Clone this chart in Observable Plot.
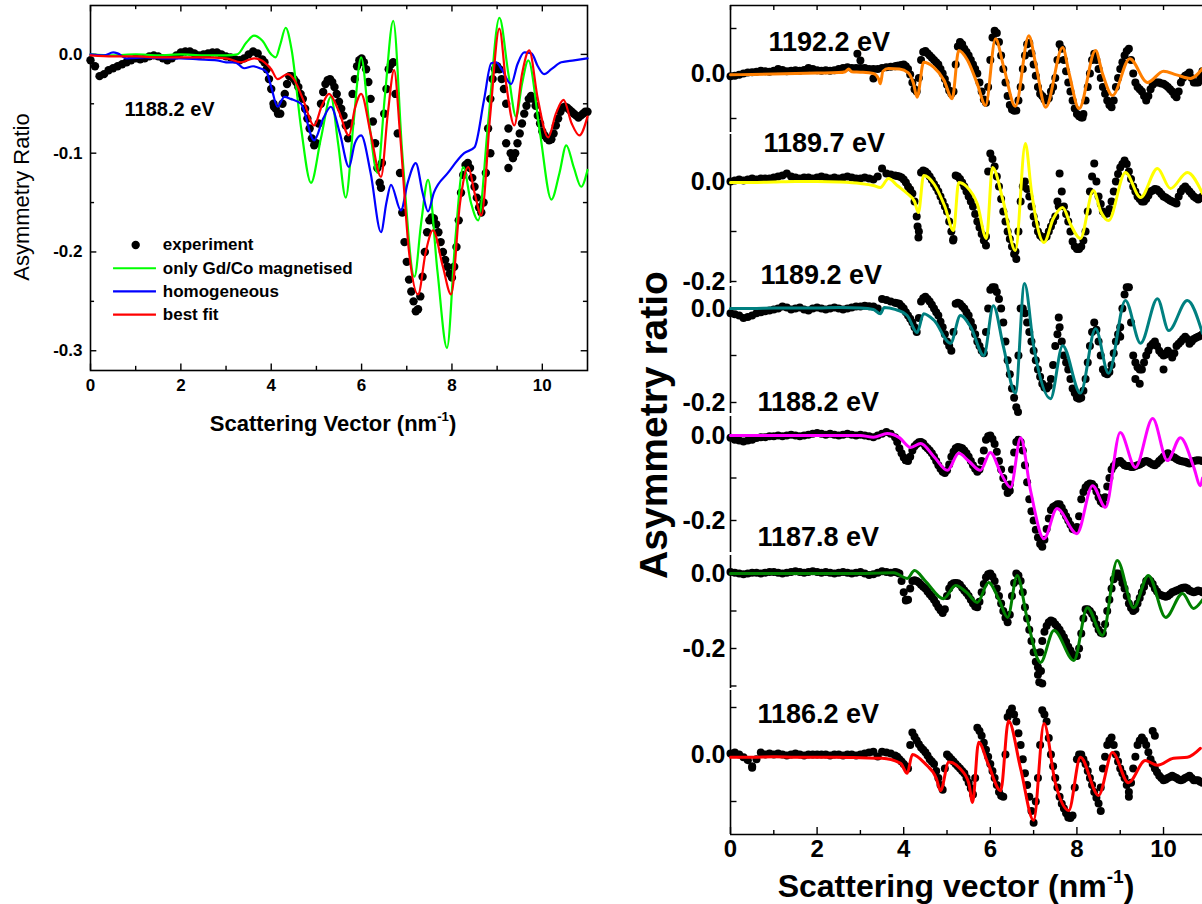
<!DOCTYPE html>
<html><head><meta charset="utf-8">
<title>Asymmetry ratio vs scattering vector</title>
<script src="https://cdn.jsdelivr.net/npm/d3@7"></script>
<script src="https://cdn.jsdelivr.net/npm/@observablehq/plot@0.6"></script>
<style>
html,body{margin:0;padding:0;background:#fff;overflow:hidden;}
#root{position:relative;width:1202px;height:904px;overflow:hidden;font-family:'Liberation Sans',Arial,Helvetica,sans-serif;color:#000;}
#root svg{position:absolute;overflow:visible;}
.ttl{position:absolute;white-space:nowrap;line-height:1;color:#000;}
.ttl sup{font-size:60%;vertical-align:0.75em;line-height:0;}
</style></head><body><div id="root"></div>
<script>
// ---------------- DATA ----------------
const qGrid = [0,0.1,0.2,0.3,0.4,0.5,0.6,0.7,0.8,0.9,1,1.1,1.2,1.3,1.4,1.5,1.6,1.7,1.8,1.9,2,2.1,2.2,2.3,2.4,2.5,2.6,2.7,2.8,2.9,3,3.1,3.2,3.3,3.4,3.5,3.6,3.7,3.8,3.9,4,4.1,4.2,4.3,4.4,4.5,4.6,4.7,4.8,4.9,5,5.1,5.2,5.3,5.4,5.5,5.6,5.7,5.8,5.9,6,6.1,6.2,6.3,6.4,6.5,6.6,6.7,6.8,6.9,7,7.1,7.2,7.3,7.4,7.5,7.6,7.7,7.8,7.9,8,8.1,8.2,8.3,8.4,8.5,8.6,8.7,8.8,8.9,9,9.1,9.2,9.3,9.4,9.5,9.6,9.7,9.8,9.9,10,10.1,10.2,10.3,10.4,10.5,10.6,10.7,10.8,10.9,11];
const qMid = [3.85,3.95,4.05,4.15,4.25,4.35,4.45,4.55,4.65,4.75,4.85,4.95,5.05,5.15,5.25,5.35,5.45,5.55,5.65,5.75,5.85,5.95,6.05,6.15,6.25,6.35,6.45,6.55,6.65,6.75,6.85,6.95,7.05,7.15,7.25,7.35,7.45,7.55,7.65,7.75,7.85,7.95,8.05,8.15,8.25,8.35,8.45,8.55,8.65,8.75,8.85,8.95,9.05,9.15,9.25,9.35,9.45,9.55,9.65,9.75,9.85,9.95,10.05,10.15,10.25,10.35,10.45,10.55,10.65,10.75,10.85,10.95];

// Left panel (1188.2 eV)
const leftExp = [
-0.006,-0.012,-0.022,-0.02,-0.016,-0.014,-0.012,-0.01,-0.008,-0.006,
-0.004,-0.005,-0.004,-0.002,-0.001,-0.002,-0.004,-0.006,-0.004,-0.001,
0.002,0.003,0.003,0.001,-0.001,0,0.001,0.002,0.002,0,
-0.002,-0.003,-0.005,-0.006,-0.004,0,0.003,0.001,-0.005,-0.015,
-0.035,-0.055,-0.06,-0.04,-0.022,-0.025,-0.033,-0.045,-0.065,-0.085,
-0.09,-0.05,-0.03,-0.025,-0.033,-0.048,-0.062,-0.085,-0.04,-0.012,
-0.004,-0.015,-0.045,-0.09,-0.13,-0.06,-0.015,-0.008,-0.08,-0.16,
-0.21,-0.24,-0.26,-0.245,-0.2,-0.168,-0.166,-0.18,-0.2,-0.215,
-0.226,-0.195,-0.14,-0.112,-0.115,-0.134,-0.155,-0.15,-0.075,-0.025,
-0.012,-0.025,-0.05,-0.1,-0.1,-0.08,-0.06,-0.045,-0.045,-0.062,
-0.078,-0.085,-0.086,-0.072,-0.058,-0.053,-0.056,-0.06,-0.064,-0.06,
-0.058];
const leftExpMid = [
-0.008,-0.025,-0.05,-0.06,-0.05,-0.03,-0.022,-0.028,-0.04,-0.055,
-0.075,-0.092,-0.07,-0.038,-0.026,-0.028,-0.04,-0.055,-0.072,-0.07,
-0.025,-0.006,-0.008,-0.028,-0.068,-0.115,-0.11,-0.035,-0.01,-0.04,
-0.12,-0.19,-0.228,-0.25,-0.258,-0.225,-0.18,-0.165,-0.172,-0.19,
-0.208,-0.222,-0.215,-0.168,-0.122,-0.11,-0.125,-0.145,-0.16,-0.12,
-0.045,-0.015,-0.015,-0.035,-0.075,-0.105,-0.09,-0.07,-0.052,-0.042,
-0.052,-0.07,-0.082,-0.087,-0.08,-0.065,-0.054,-0.054,-0.058,-0.062,
-0.062,-0.058];
const leftExpExtra = [[6.43,-0.135],[9.25,-0.115],[9.35,-0.105],[8.85,-0.1],[9.2,-0.09],[4.06,-0.053]];
const leftGreen = [[0,0],[0.5,-0.001],[1,0],[1.5,-0.001],[2,0],[2.5,-0.001],[3,-0.001],[3.25,0],[3.45,0.012],[3.62,0.019],[3.8,0.014],[4.0,0.0],[4.1,-0.003],[4.2,0.01],[4.32,0.027],[4.45,0.005],[4.66,-0.074],[4.88,-0.13],[5.1,-0.085],[5.32,-0.043],[5.48,-0.09],[5.65,-0.145],[5.82,-0.07],[5.99,-0.003],[6.17,-0.07],[6.35,-0.12],[6.52,-0.04],[6.7,0.034],[6.9,-0.1],[7.17,-0.225],[7.32,-0.17],[7.47,-0.127],[7.68,-0.22],[7.89,-0.297],[8.07,-0.19],[8.25,-0.114],[8.42,-0.15],[8.58,-0.168],[8.8,-0.07],[9.05,0.037],[9.25,-0.02],[9.42,-0.063],[9.55,-0.03],[9.69,-0.006],[9.95,-0.08],[10.2,-0.147],[10.38,-0.12],[10.53,-0.092],[10.7,-0.115],[10.86,-0.134],[11.0,-0.117]];
const leftBlue = [[0,0],[0.3,-0.001],[0.5,0.002],[0.6,0.001],[0.8,-0.004],[1.2,-0.003],[1.6,-0.004],[2.0,-0.004],[2.4,-0.005],[2.8,-0.006],[3.0,-0.008],[3.2,-0.008],[3.4,-0.014],[3.6,-0.012],[3.75,-0.014],[3.9,-0.018],[4.0,-0.033],[4.14,-0.053],[4.29,-0.043],[4.43,-0.045],[4.66,-0.05],[4.95,-0.087],[5.15,-0.065],[5.32,-0.053],[5.52,-0.08],[5.72,-0.114],[5.85,-0.09],[5.99,-0.082],[6.2,-0.12],[6.43,-0.18],[6.55,-0.15],[6.65,-0.132],[6.87,-0.158],[7.02,-0.13],[7.2,-0.11],[7.35,-0.14],[7.47,-0.159],[7.6,-0.14],[7.91,-0.12],[8.27,-0.1],[8.5,-0.094],[8.71,-0.046],[8.87,-0.009],[8.98,-0.008],[9.1,-0.015],[9.31,-0.03],[9.45,-0.01],[9.6,0.002],[9.76,0.001],[9.9,-0.012],[10.04,-0.02],[10.2,-0.015],[10.42,-0.008],[10.7,-0.006],[11,-0.004]];
const leftRed = [[0,-0.001],[0.5,-0.002],[1,-0.002],[1.5,-0.003],[2,-0.003],[2.5,-0.003],[3,-0.004],[3.33,-0.008],[3.62,-0.004],[3.85,-0.008],[4.0,-0.015],[4.14,-0.025],[4.36,-0.02],[4.5,-0.025],[4.7,-0.045],[4.95,-0.072],[5.12,-0.052],[5.28,-0.04],[5.5,-0.058],[5.72,-0.082],[5.85,-0.055],[5.99,-0.04],[6.2,-0.08],[6.43,-0.124],[6.58,-0.06],[6.72,-0.016],[6.85,-0.08],[7.05,-0.2],[7.25,-0.243],[7.42,-0.2],[7.58,-0.178],[7.8,-0.215],[7.98,-0.243],[8.18,-0.15],[8.36,-0.114],[8.5,-0.14],[8.65,-0.163],[8.85,-0.06],[9.05,0.026],[9.2,-0.03],[9.38,-0.072],[9.55,-0.02],[9.71,0.004],[9.9,-0.045],[10.13,-0.084],[10.3,-0.06],[10.47,-0.046],[10.65,-0.07],[10.82,-0.082],[11,-0.063]];
const leftLabel = "1188.2 eV";
const legendItems = [
  {label: "experiment", kind: "dot", color: "#000000"},
  {label: "only Gd/Co magnetised", kind: "line", color: "#00ff00"},
  {label: "homogeneous", kind: "line", color: "#0000ff"},
  {label: "best fit", kind: "line", color: "#ff0000"}
];
const leftXTicks = [0,2,4,6,8,10];
const leftYTicks = [0,-0.1,-0.2,-0.3];

// Right panel: six energies
const energies = ["1192.2 eV","1189.7 eV","1189.2 eV","1188.2 eV","1187.8 eV","1186.2 eV"];
const fitColors = ["#ff7f00","#ffff00","#008080","#ff00ff","#008000","#ff0000"];

const exp1192_2 = [
-0.006,-0.005,-0.003,0,0.002,0.003,0.004,0.006,0.005,0.004,
0.006,0.01,0.008,0.005,0.006,0.007,0.006,0.008,0.012,0.01,
0.007,0.006,0.007,0.006,0.007,0.01,0.012,0.014,0.012,0.012,
0.012,0.012,0.01,0.01,0.01,0.012,0.014,0.015,0.016,0.018,
0.02,0.01,-0.02,-0.04,0.03,0.05,0.04,0.03,0.02,0,
-0.025,-0.045,0.02,0.07,0.055,0.04,0.02,0,-0.04,-0.065,
0.03,0.095,0.07,0.01,-0.05,-0.08,-0.082,-0.03,0.04,0.068,
0.02,-0.03,-0.05,-0.06,-0.04,-0.01,0.065,0.03,-0.02,-0.06,
-0.09,-0.098,-0.06,0,0.044,0.01,-0.03,-0.06,-0.075,-0.03,
0.01,0.04,0.055,0,-0.03,-0.04,-0.06,-0.035,-0.02,-0.02,
-0.023,-0.03,-0.04,-0.053,-0.02,-0.005,0.002,-0.02,-0.02,0.005,
0];
const exp1189_7 = [
0,0.002,0.004,0.002,0.004,0.006,0.004,0.006,0.006,0.006,
0.008,0.01,0.012,0.016,0.01,0.008,0.006,0.008,0.008,0.006,
0.008,0.01,0.008,0.006,0.008,0.006,0.008,0.01,0.008,0.006,
0.006,0.008,0.006,0.004,0.01,0.026,0.016,0.014,0.012,0.01,
0.004,-0.01,-0.024,-0.07,0.018,0.02,0.01,-0.005,-0.02,-0.04,
-0.06,-0.1,0.012,0.005,-0.01,-0.03,-0.05,-0.08,-0.105,-0.128,
0.056,0.03,-0.01,-0.06,-0.1,-0.13,-0.155,-0.04,0,-0.03,
-0.07,-0.1,-0.112,-0.11,-0.09,-0.07,0.016,-0.05,-0.08,-0.12,
-0.135,-0.13,-0.1,-0.02,0.036,-0.03,-0.06,-0.064,-0.04,0,
0.028,0.042,0.02,-0.01,-0.03,-0.04,-0.035,-0.02,-0.015,-0.02,
-0.03,-0.035,-0.04,-0.044,-0.02,-0.01,-0.02,-0.03,-0.036,-0.03,
-0.025];
const exp1189_2 = [
-0.01,-0.012,-0.015,-0.02,-0.018,-0.015,-0.01,-0.008,-0.006,-0.004,
-0.002,0,0.004,0.002,-0.002,0,0.002,-0.002,-0.004,0,
0.002,0,-0.002,0,0.002,0,-0.002,0,0.002,0.004,
0.004,0.006,0.005,0.004,0,0.02,0.018,0.015,0.012,0.01,
0,-0.015,-0.03,-0.05,0.015,0.025,0.015,0,-0.015,-0.04,
-0.07,-0.09,0.01,0.01,0,-0.015,-0.04,-0.07,-0.09,-0.05,
0.04,0.045,0.02,-0.03,-0.11,-0.17,-0.21,0,-0.01,-0.05,
-0.09,-0.13,-0.16,-0.17,-0.15,-0.08,-0.04,-0.1,-0.13,-0.17,
-0.19,-0.19,-0.15,-0.08,-0.03,-0.07,-0.13,-0.14,-0.12,-0.07,
-0.04,0.03,0.045,-0.1,-0.125,-0.13,-0.1,-0.08,-0.07,-0.09,
-0.1,-0.09,-0.104,-0.08,-0.07,-0.06,-0.075,-0.065,-0.06,-0.055,
-0.06];
const exp1188_2 = [
-0.005,-0.01,-0.012,-0.014,-0.012,-0.01,-0.006,-0.004,-0.004,-0.002,
-0.002,0,-0.002,0,0.002,0,-0.002,0,0.002,0.004,
0.006,0.004,0.002,0.004,0.002,0,0.002,0.004,0.002,0,
0.002,0,-0.002,-0.004,0,0.004,0.008,0.004,-0.004,-0.03,
-0.052,-0.06,-0.035,-0.02,-0.015,-0.025,-0.035,-0.05,-0.07,-0.085,
-0.082,-0.05,-0.03,-0.028,-0.035,-0.05,-0.07,-0.085,-0.06,-0.01,
0,-0.02,-0.06,-0.1,-0.135,-0.08,-0.015,-0.015,-0.07,-0.15,
-0.2,-0.24,-0.262,-0.22,-0.175,-0.165,-0.162,-0.18,-0.2,-0.22,
-0.215,-0.15,-0.122,-0.113,-0.12,-0.145,-0.16,-0.12,-0.08,-0.066,
-0.06,-0.07,-0.072,-0.074,-0.07,-0.065,-0.06,-0.065,-0.07,-0.06,
-0.05,-0.042,-0.05,-0.055,-0.06,-0.062,-0.066,-0.06,-0.058,-0.06,
-0.06];
const exp1187_8 = [
0.004,0.002,0,-0.002,0,0.002,0.002,0,0.002,0.004,
0.004,0.002,0,0.002,0.004,0.006,0.004,0.002,0.004,0.006,
0.004,0.002,0.004,0.002,0,0.002,0.004,0.002,0,0.002,
0.004,0,-0.004,-0.002,0.002,0.006,0.004,0.002,0.004,0,
-0.05,-0.07,-0.02,-0.02,-0.03,-0.04,-0.055,-0.07,-0.09,-0.105,
-0.06,-0.03,-0.025,-0.03,-0.045,-0.06,-0.08,-0.09,-0.05,-0.01,
0,-0.02,-0.06,-0.1,-0.13,-0.06,0,-0.02,-0.09,-0.15,
-0.21,-0.25,-0.18,-0.14,-0.125,-0.135,-0.15,-0.17,-0.195,-0.215,
-0.22,-0.16,-0.095,-0.1,-0.12,-0.15,-0.16,-0.1,-0.04,0,
-0.01,-0.04,-0.08,-0.1,-0.08,-0.05,-0.02,-0.02,-0.04,-0.055,
-0.06,-0.06,-0.05,-0.045,-0.04,-0.037,-0.045,-0.05,-0.045,-0.05,
-0.048];
const exp1186_2 = [
0.002,0.004,0,-0.006,-0.012,-0.025,-0.01,0.004,0,0.002,
0,0.002,0,-0.002,0,0.002,0,-0.002,0,0,
0,0,0,-0.002,0,0,-0.002,0,0,-0.002,
0,0.002,0.004,0.006,-0.004,0.006,0.004,0.002,-0.002,-0.01,
-0.02,-0.03,0.047,0.03,0.015,0.005,-0.01,-0.02,-0.05,-0.075,
0,-0.01,-0.02,-0.03,-0.04,-0.06,-0.085,0.057,0.04,0.01,
-0.02,-0.05,-0.08,-0.09,0.08,0.098,0.07,0.02,-0.04,-0.09,
-0.145,-0.05,0.094,0.07,0,-0.05,-0.09,-0.115,-0.134,-0.13,
-0.01,0,-0.02,-0.05,-0.08,-0.104,-0.03,0.02,0.036,0,
-0.03,-0.05,-0.08,-0.03,0.02,0.036,0.02,-0.01,-0.03,-0.045,
-0.055,-0.05,-0.045,-0.05,-0.055,-0.05,-0.045,-0.055,-0.055,-0.06,
-0.06];

// in-between readings (q = 3.85 ... 10.95)
const mid1192_2 = [
0.017,0.019,0.016,-0.002,-0.035,-0.01,0.048,0.045,0.035,0.025,
0.01,-0.012,-0.038,-0.04,0.06,0.065,0.048,0.03,0.01,-0.02,
-0.058,-0.03,0.08,0.09,0.04,-0.02,-0.07,-0.082,-0.06,0.01,
0.065,0.045,-0.005,-0.045,-0.058,-0.055,-0.03,0.03,0.055,0.005,
-0.04,-0.078,-0.095,-0.09,-0.03,0.03,0.03,-0.01,-0.045,-0.07,
-0.06,-0.01,0.025,0.05,0.03,-0.02,-0.035,-0.05,-0.05,-0.025,
-0.02,-0.022,-0.026,-0.035,-0.048,-0.04,-0.01,-0.002,-0.01,-0.02,
-0.01,0.003];
const mid1189_7 = [
0.011,0.008,-0.002,-0.016,-0.04,-0.1,0.022,0.016,0.003,-0.012,
-0.03,-0.05,-0.08,-0.115,0.01,-0.002,-0.02,-0.04,-0.065,-0.092,
-0.118,0.02,0.045,0.01,-0.035,-0.08,-0.115,-0.145,-0.1,-0.01,
-0.015,-0.05,-0.085,-0.108,-0.113,-0.1,-0.08,-0.04,-0.02,-0.065,
-0.1,-0.13,-0.135,-0.118,-0.06,0.01,0.0,-0.045,-0.065,-0.055,
-0.02,0.015,0.035,0.035,0.005,-0.02,-0.035,-0.04,-0.028,-0.018,
-0.016,-0.025,-0.032,-0.038,-0.042,-0.03,-0.014,-0.015,-0.025,-0.033,
-0.033,-0.028];
const mid1189_2 = [
0.011,0.005,-0.008,-0.022,-0.04,-0.02,0.022,0.02,0.008,-0.008,
-0.028,-0.055,-0.08,-0.05,0.012,0.005,-0.008,-0.028,-0.055,-0.08,
-0.095,0.0,0.045,0.035,0.0,-0.07,-0.14,-0.19,-0.1,0.0,
-0.03,-0.07,-0.11,-0.145,-0.168,-0.165,-0.12,-0.055,-0.07,-0.115,
-0.15,-0.18,-0.192,-0.175,-0.115,-0.05,-0.045,-0.1,-0.138,-0.135,
-0.095,-0.055,0.0,0.045,-0.03,-0.115,-0.13,-0.115,-0.09,-0.075,
-0.08,-0.095,-0.098,-0.095,-0.095,-0.075,-0.065,-0.065,-0.07,-0.062,
-0.058,-0.057];
const mid1188_2 = [
-0.015,-0.042,-0.058,-0.05,-0.025,-0.016,-0.018,-0.03,-0.042,-0.06,
-0.078,-0.088,-0.068,-0.038,-0.027,-0.03,-0.042,-0.06,-0.078,-0.08,
-0.035,-0.002,-0.008,-0.038,-0.08,-0.12,-0.115,-0.04,-0.01,-0.035,
-0.11,-0.178,-0.222,-0.255,-0.245,-0.195,-0.168,-0.162,-0.17,-0.19,
-0.21,-0.222,-0.19,-0.133,-0.116,-0.114,-0.132,-0.155,-0.145,-0.1,
-0.072,-0.062,-0.065,-0.072,-0.074,-0.072,-0.068,-0.062,-0.062,-0.068,
-0.066,-0.055,-0.045,-0.046,-0.052,-0.058,-0.061,-0.064,-0.063,-0.059,
-0.059,-0.06];
const mid1187_8 = [
0.003,-0.02,-0.07,-0.04,-0.018,-0.024,-0.035,-0.048,-0.062,-0.08,
-0.098,-0.095,-0.04,-0.026,-0.026,-0.038,-0.052,-0.07,-0.088,-0.075,
-0.028,-0.002,-0.008,-0.04,-0.08,-0.118,-0.11,-0.025,-0.005,-0.05,
-0.12,-0.18,-0.235,-0.21,-0.155,-0.13,-0.128,-0.142,-0.16,-0.182,
-0.205,-0.22,-0.2,-0.12,-0.095,-0.108,-0.135,-0.158,-0.135,-0.07,
-0.015,0.0,-0.025,-0.06,-0.092,-0.095,-0.065,-0.035,-0.015,-0.028,
-0.048,-0.058,-0.062,-0.055,-0.048,-0.043,-0.038,-0.04,-0.048,-0.048,
-0.047,-0.05];
const mid1186_2 = [
-0.005,-0.015,-0.025,0.02,0.038,0.022,0.01,-0.002,-0.015,-0.035,
-0.065,-0.03,-0.005,-0.015,-0.025,-0.035,-0.05,-0.072,-0.05,0.05,
0.025,-0.005,-0.035,-0.065,-0.088,0.0,0.09,0.085,0.045,-0.01,
-0.065,-0.12,-0.1,0.02,0.085,0.035,-0.025,-0.07,-0.105,-0.125,
-0.135,-0.07,0.0,-0.01,-0.035,-0.065,-0.092,-0.07,-0.005,0.03,
0.02,-0.015,-0.04,-0.065,-0.06,-0.005,0.03,0.03,0.005,-0.02,
-0.038,-0.05,-0.053,-0.048,-0.048,-0.053,-0.053,-0.048,-0.05,-0.055,
-0.058,-0.06];

const extra1192_2 = [[2.93,0.044],[3.0,0.029],[3.3,-0.011],[6.55,-0.082],[8.13,-0.098]];
const extra1189_7 = [[4.34,-0.112],[4.32,-0.09],[5.14,-0.118],[5.9,-0.11],[6.58,-0.14],[7.58,-0.05]];
const extra1189_2 = [[6.64,-0.22],[7.58,-0.019],[9.35,-0.15],[9.45,-0.16],[10.0,-0.13],[9.0,-0.06]];
const extra1188_2 = [[4.05,-0.058],[6.45,-0.13]];
const extra1187_8 = [[7.13,-0.29],[7.1,-0.27],[7.17,-0.26],[4.05,-0.072]];
const extra1186_2 = [[7.2,0.151],[8.55,-0.12],[9.2,-0.09],[9.75,0.05],[9.8,0.04],[0.5,-0.028]];

const fit1192_2 = [[0,-0.003],[0.5,-0.002],[1,-0.001],[1.5,0],[2,0.001],[2.5,0.002],[2.65,0.004],[2.73,0.01],[2.8,0.004],[3.0,0.003],[3.3,0.0],[3.42,-0.012],[3.46,-0.023],[3.52,0.005],[3.65,0.011],[3.9,0.01],[4.1,0.002],[4.22,-0.02],[4.31,-0.053],[4.46,0.025],[4.69,0.014],[4.93,-0.015],[5.12,-0.056],[5.27,0.051],[5.47,0.03],[5.7,-0.023],[5.89,-0.071],[6.12,0.077],[6.31,0.014],[6.58,-0.073],[6.89,0.084],[7.05,0.02],[7.28,-0.075],[7.67,0.058],[7.82,0.0],[8.05,-0.078],[8.43,0.051],[8.59,0.0],[8.82,-0.049],[9.22,0.033],[9.63,-0.02],[10.0,0.005],[10.3,-0.003],[10.62,-0.011],[10.9,0.011]];
const fit1189_7 = [[0,-0.002],[0.5,-0.002],[1,-0.001],[1.5,0],[2,0],[2.5,-0.001],[3.0,-0.004],[3.3,-0.008],[3.46,-0.012],[3.65,0.006],[3.85,-0.008],[4.08,-0.024],[4.25,-0.04],[4.34,-0.062],[4.46,0.012],[4.7,-0.005],[4.95,-0.05],[5.15,-0.098],[5.27,-0.002],[5.45,-0.01],[5.7,-0.045],[5.91,-0.114],[6.05,0.028],[6.3,-0.04],[6.58,-0.138],[6.81,0.076],[6.95,-0.02],[7.24,-0.122],[7.45,-0.075],[7.67,-0.052],[7.85,-0.085],[8.08,-0.114],[8.38,-0.018],[8.55,-0.06],[8.73,-0.078],[9.12,0.018],[9.47,-0.032],[9.86,0.026],[10.16,-0.014],[10.55,0.018],[10.9,-0.024]];
const fit1189_2 = [[0,0],[0.5,0.0],[1,0.001],[1.5,0.001],[2,0.001],[2.5,0.002],[3,0.001],[3.3,-0.002],[3.46,-0.011],[3.55,0.002],[3.8,-0.002],[4.08,-0.015],[4.31,-0.051],[4.46,-0.011],[4.7,-0.025],[5.08,-0.074],[5.31,-0.015],[5.55,-0.04],[5.85,-0.1],[6.07,0.006],[6.3,-0.08],[6.58,-0.18],[6.79,0.053],[7.0,-0.08],[7.39,-0.192],[7.67,-0.079],[8.08,-0.18],[8.43,-0.043],[8.73,-0.138],[9.12,0.017],[9.47,-0.074],[9.86,0.021],[10.12,-0.047],[10.55,0.017],[10.9,-0.053]];
const fit1188_2 = [[0,0.0],[0.5,0.0],[1,0.0],[1.5,0.0],[2,0.0],[2.5,0.0],[3,0.0],[3.3,-0.004],[3.62,0.005],[3.9,-0.005],[4.16,-0.028],[4.39,-0.019],[4.7,-0.05],[5.01,-0.082],[5.27,-0.042],[5.5,-0.06],[5.77,-0.082],[6.0,-0.04],[6.25,-0.09],[6.47,-0.122],[6.7,-0.005],[6.93,-0.13],[7.24,-0.243],[7.54,-0.172],[8.0,-0.231],[8.36,-0.118],[8.66,-0.169],[9.0,0.007],[9.35,-0.075],[9.75,0.04],[10.09,-0.059],[10.39,-0.005],[10.7,-0.075],[10.85,-0.118],[10.9,-0.1]];
const fit1187_8 = [[0,0.0],[0.5,0.0],[1,0.0],[1.5,0.0],[2,0.0],[2.5,0.0],[3,0.0],[3.4,0.001],[3.77,0.002],[4.08,-0.013],[4.25,0.008],[4.5,-0.02],[4.92,-0.067],[5.2,-0.032],[5.45,-0.05],[5.7,-0.077],[5.96,-0.024],[6.2,-0.07],[6.4,-0.117],[6.62,-0.005],[6.85,-0.12],[7.16,-0.237],[7.47,-0.152],[7.93,-0.232],[8.24,-0.091],[8.59,-0.165],[8.93,0.035],[9.31,-0.091],[9.65,-0.005],[10.05,-0.117],[10.44,-0.053],[10.69,-0.093],[10.9,-0.07]];
const fit1186_2 = [[0,-0.006],[0.5,-0.006],[1,-0.005],[1.5,-0.006],[2,-0.006],[2.5,-0.006],[3,-0.007],[3.5,-0.008],[3.93,-0.019],[4.08,-0.04],[4.2,0.0],[4.5,-0.02],[4.75,-0.05],[4.85,-0.077],[5.04,-0.016],[5.3,-0.03],[5.5,-0.06],[5.59,-0.102],[5.73,0.026],[5.95,-0.02],[6.24,-0.077],[6.42,0.072],[6.7,-0.03],[7.0,-0.14],[7.24,0.066],[7.5,-0.06],[7.81,-0.119],[8.08,-0.006],[8.5,-0.087],[8.82,0.004],[9.19,-0.06],[9.58,-0.013],[9.86,-0.023],[10.23,-0.008],[10.55,-0.006],[10.85,0.013]];

const rightExp = [exp1192_2, exp1189_7, exp1189_2, exp1188_2, exp1187_8, exp1186_2];
const rightMid = [mid1192_2, mid1189_7, mid1189_2, mid1188_2, mid1187_8, mid1186_2];
const rightExtra = [extra1192_2, extra1189_7, extra1189_2, extra1188_2, extra1187_8, extra1186_2];
const rightFit = [fit1192_2, fit1189_7, fit1189_2, fit1188_2, fit1187_8, fit1186_2];
const rightYTicks = [[0.1,0,-0.1],[0,-0.1,-0.2],[0,-0.1,-0.2],[0,-0.1,-0.2],[0,-0.1,-0.2,-0.3],[0.1,0,-0.1]];
const rightYLabels = [[0],[0,-0.2],[0,-0.2],[0,-0.2],[0,-0.2],[0]];
const rightXMajor = [0,2,4,6,8,10];
const rightXMinor = [1,3,5,7,9];

// ---------------- LAYOUT ----------------
const FONT = "'Liberation Sans', Arial, Helvetica, sans-serif";
const root = document.getElementById("root");
const gridPts = vals => qGrid.map((q, i) => ({q, v: vals[i]}));
const midPts = vals => qMid.map((q, i) => ({q, v: vals[i]}));
const pairPts = arr => arr.map(([q, v]) => ({q, v}));
const fmt1 = d => d.toFixed(1);
function place(node, left, top) {
  node.style.position = "absolute";
  node.style.left = left + "px";
  node.style.top = top + "px";
  root.appendChild(node);
}
function addTitle(html, cx, cy, size, weight, rotate) {
  const d = document.createElement("div");
  d.className = "ttl";
  d.innerHTML = html;
  d.style.fontSize = size + "px";
  d.style.fontWeight = weight;
  d.style.left = cx + "px";
  d.style.top = cy + "px";
  d.style.transform = "translate(-50%,-50%)" + (rotate ? " rotate(-90deg)" : "");
  root.appendChild(d);
}

// ---- Left panel ----
{
  const yMin = -0.32, yMax = 0.0495, xMax = 11;
  const tl = 0.0065, tlm = 0.0042, txl = 0.14, txm = 0.09;
  const rowV = i => -0.193 - i * 0.0235;
  const legendRows = legendItems.map((d, i) => ({...d, v: rowV(i)}));
  const marks = [
    Plot.frame({stroke: "#000", strokeWidth: 1.6}),
    Plot.ruleX(leftXTicks, {x: d => d, y1: yMin, y2: yMin + tl, stroke: "#000", strokeWidth: 1.4}),
    Plot.ruleX([1,3,5,7,9], {x: d => d, y1: yMin, y2: yMin + tlm, stroke: "#000", strokeWidth: 1.4}),
    Plot.ruleX(leftXTicks, {x: d => d, y1: yMax, y2: yMax - tl, stroke: "#000", strokeWidth: 1.4}),
    Plot.ruleX([1,3,5,7,9], {x: d => d, y1: yMax, y2: yMax - tlm, stroke: "#000", strokeWidth: 1.4}),
    Plot.ruleY(leftYTicks, {y: d => d, x1: 0, x2: txl, stroke: "#000", strokeWidth: 1.4}),
    Plot.ruleY([-0.05,-0.15,-0.25], {y: d => d, x1: 0, x2: txm, stroke: "#000", strokeWidth: 1.4}),
    Plot.ruleY(leftYTicks, {y: d => d, x1: xMax, x2: xMax - txl, stroke: "#000", strokeWidth: 1.4}),
    Plot.ruleY([-0.05,-0.15,-0.25], {y: d => d, x1: xMax, x2: xMax - txm, stroke: "#000", strokeWidth: 1.4}),
    Plot.axisX({ticks: leftXTicks, tickSize: 0, tickPadding: 8, tickFormat: d => String(d), label: null, fontSize: 17, fontWeight: "bold"}),
    Plot.axisY({ticks: leftYTicks, tickSize: 0, tickPadding: 8, tickFormat: fmt1, label: null, fontSize: 17, fontWeight: "bold"}),
    Plot.dot(gridPts(leftExp), {x: "q", y: "v", r: 4.2, fill: "#000"}),
    Plot.dot(midPts(leftExpMid), {x: "q", y: "v", r: 4.2, fill: "#000"}),
    Plot.dot(pairPts(leftExpExtra), {x: "q", y: "v", r: 4.2, fill: "#000"}),
    Plot.line(pairPts(leftGreen), {x: "q", y: "v", stroke: "#00ff00", strokeWidth: 2.2, curve: "monotone-x"}),
    Plot.line(pairPts(leftBlue), {x: "q", y: "v", stroke: "#0000ff", strokeWidth: 2.2, curve: "monotone-x"}),
    Plot.line(pairPts(leftRed), {x: "q", y: "v", stroke: "#ff0000", strokeWidth: 2.2, curve: "monotone-x"}),
    Plot.text([leftLabel], {frameAnchor: "top-left", dx: 34, dy: 104, textAnchor: "start", lineAnchor: "middle", fontSize: 20, fontWeight: "bold"}),
    Plot.dot(legendRows.filter(d => d.kind === "dot"), {x: () => 1.0, y: "v", r: 4.2, fill: "#000"}),
    ...legendRows.filter(d => d.kind === "line").map(d =>
      Plot.ruleY([d], {y: "v", x1: 0.51, x2: 1.46, stroke: d.color, strokeWidth: 2.2})),
    Plot.text(legendRows, {x: () => 1.6, y: "v", text: "label", textAnchor: "start", fontSize: 17, fontWeight: "bold"})
  ];
  const svg = Plot.plot({
    width: 600, height: 445, marginLeft: 90, marginRight: 13, marginTop: 5, marginBottom: 75,
    x: {domain: [0, xMax]}, y: {domain: [yMin, yMax]},
    style: {fontFamily: FONT, fontSize: "17px", background: "transparent", overflow: "visible", color: "#000"},
    marks
  });
  place(svg, 0, 0);
  addTitle("Asymmetry Ratio", 22, 197, 22, "normal", true);
  addTitle("Scattering Vector (nm<sup>-1</sup>)", 333, 424, 22, "bold", false);
}

// ---- Right panel ----
const rightGeom = [
  {top: 5,   bottom: 132, y0: 73,  k: 450, dx: 38, dy: 37},
  {top: 134, bottom: 283, y0: 181, k: 500, dx: 33, dy: 9},
  {top: 286, bottom: 413, y0: 308, k: 470, dx: 30, dy: -11},
  {top: 416, bottom: 552, y0: 435, k: 425, dx: 27, dy: -14},
  {top: 555, bottom: 688, y0: 573, k: 375, dx: 27, dy: -18},
  {top: 690, bottom: 834, y0: 754, k: 470, dx: 27, dy: 24}
];
rightGeom.forEach((g, i) => {
  const vMax = (g.y0 - g.top) / g.k, vMin = -(g.bottom - g.y0) / g.k;
  const isFirst = i === 0, isLast = i === rightGeom.length - 1;
  const mb = isLast ? 40 : 0;
  const marks = [
    Plot.ruleX([0], {stroke: "#000", strokeWidth: 1.6}),
    Plot.ruleY(rightYTicks[i], {y: d => d, x1: 0, x2: 0.15, stroke: "#000", strokeWidth: 1.4}),
    Plot.axisY({ticks: rightYLabels[i], tickSize: 0, tickPadding: 5, tickFormat: fmt1, label: null, fontSize: 25, fontWeight: "bold"}),
    Plot.dot(gridPts(rightExp[i]), {x: "q", y: "v", r: 4, fill: "#000"}),
    Plot.dot(midPts(rightMid[i]), {x: "q", y: "v", r: 4, fill: "#000"}),
    Plot.dot(pairPts(rightExtra[i]), {x: "q", y: "v", r: 4, fill: "#000"}),
    Plot.line(pairPts(rightFit[i]), {x: "q", y: "v", stroke: fitColors[i], strokeWidth: 3, curve: "monotone-x"}),
    Plot.text([energies[i]], {frameAnchor: "top-left", dx: g.dx, dy: g.dy, textAnchor: "start", lineAnchor: "middle", fontSize: 27, fontWeight: "bold"})
  ];
  if (isFirst) {
    marks.push(Plot.ruleY([vMax], {stroke: "#000", strokeWidth: 1.6}));
    marks.push(Plot.ruleX(rightXMajor.concat(rightXMinor), {x: d => d, y1: vMax, y2: vMax - 5 / g.k, stroke: "#000", strokeWidth: 1.4}));
  }
  if (isLast) {
    marks.push(Plot.ruleY([vMin], {stroke: "#000", strokeWidth: 1.6}));
    marks.push(Plot.ruleX(rightXMajor, {x: d => d, y1: vMin, y2: vMin + 7 / g.k, stroke: "#000", strokeWidth: 1.4}));
    marks.push(Plot.ruleX(rightXMinor, {x: d => d, y1: vMin, y2: vMin + 4 / g.k, stroke: "#000", strokeWidth: 1.4}));
    marks.push(Plot.axisX({ticks: rightXMajor, tickSize: 0, tickPadding: 5, tickFormat: d => String(d), label: null, fontSize: 24, fontWeight: "bold"}));
  }
  const svg = Plot.plot({
    width: 562, height: (g.bottom - g.top) + mb,
    marginLeft: 90, marginRight: 0, marginTop: 0, marginBottom: mb,
    x: isLast ? {domain: [0, 10.9]} : {domain: [0, 10.9], axis: null},
    y: {domain: [vMin, vMax]},
    style: {fontFamily: FONT, fontSize: "24px", background: "transparent", overflow: "visible", color: "#000"},
    marks
  });
  place(svg, 640, g.top);
});
addTitle("Asymmetry ratio", 653, 425, 39, "bold", true);
addTitle("Scattering vector (nm<sup>-1</sup>)", 956, 886, 32, "bold", false);
</script></body></html>
